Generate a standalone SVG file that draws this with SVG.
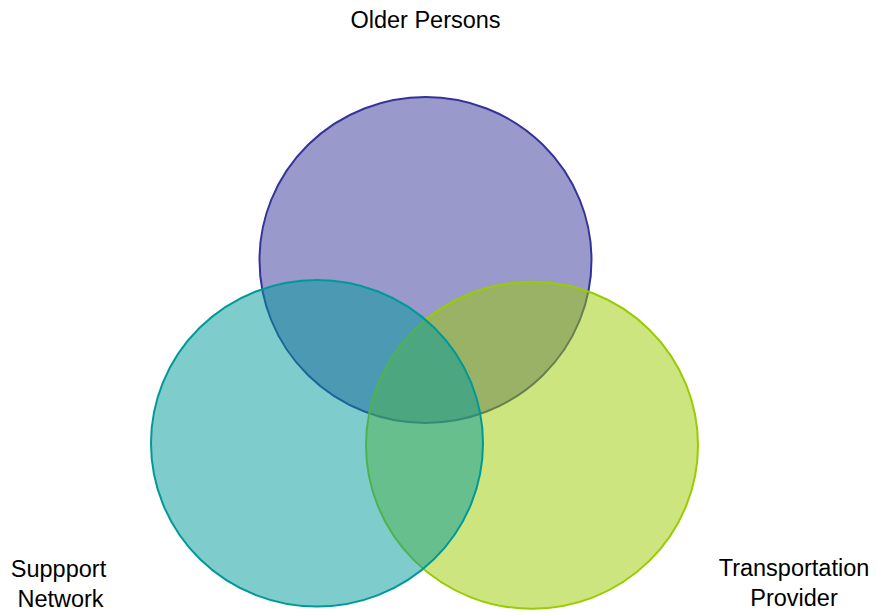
<svg xmlns="http://www.w3.org/2000/svg" width="876" height="613" viewBox="0 0 876 613">
<style>
.c{stroke-width:2}
.lbl{font-family:"Liberation Sans",Arial,sans-serif;font-size:23.5px;fill:#000;text-anchor:middle}
</style>
<rect width="876" height="613" fill="#fff"/>
<g id="older-persons">
<ellipse class="c" cx="425.5" cy="260" rx="166" ry="163" fill="#333399" fill-opacity="0.5" stroke="#333399"/>
</g>
<g id="transportation-provider">
<ellipse class="c" cx="532" cy="445.3" rx="166" ry="163.5" fill="#99cc00" fill-opacity="0.5" stroke="#99cc00"/>
</g>
<g id="support-network">
<ellipse class="c" cx="317" cy="443.3" rx="166" ry="163.3" fill="#009999" fill-opacity="0.5" stroke="#009999"/>
</g>
<g id="connectors"></g>
<g id="labels">
<text class="lbl" x="425.5" y="28" font-size="24.3">Older Persons</text>
<text class="lbl" x="58.5" y="577">Suppport</text>
<text class="lbl" x="60.5" y="607">Network</text>
<text class="lbl" x="794" y="576">Transportation</text>
<text class="lbl" x="794" y="606">Provider</text>
</g>
</svg>
